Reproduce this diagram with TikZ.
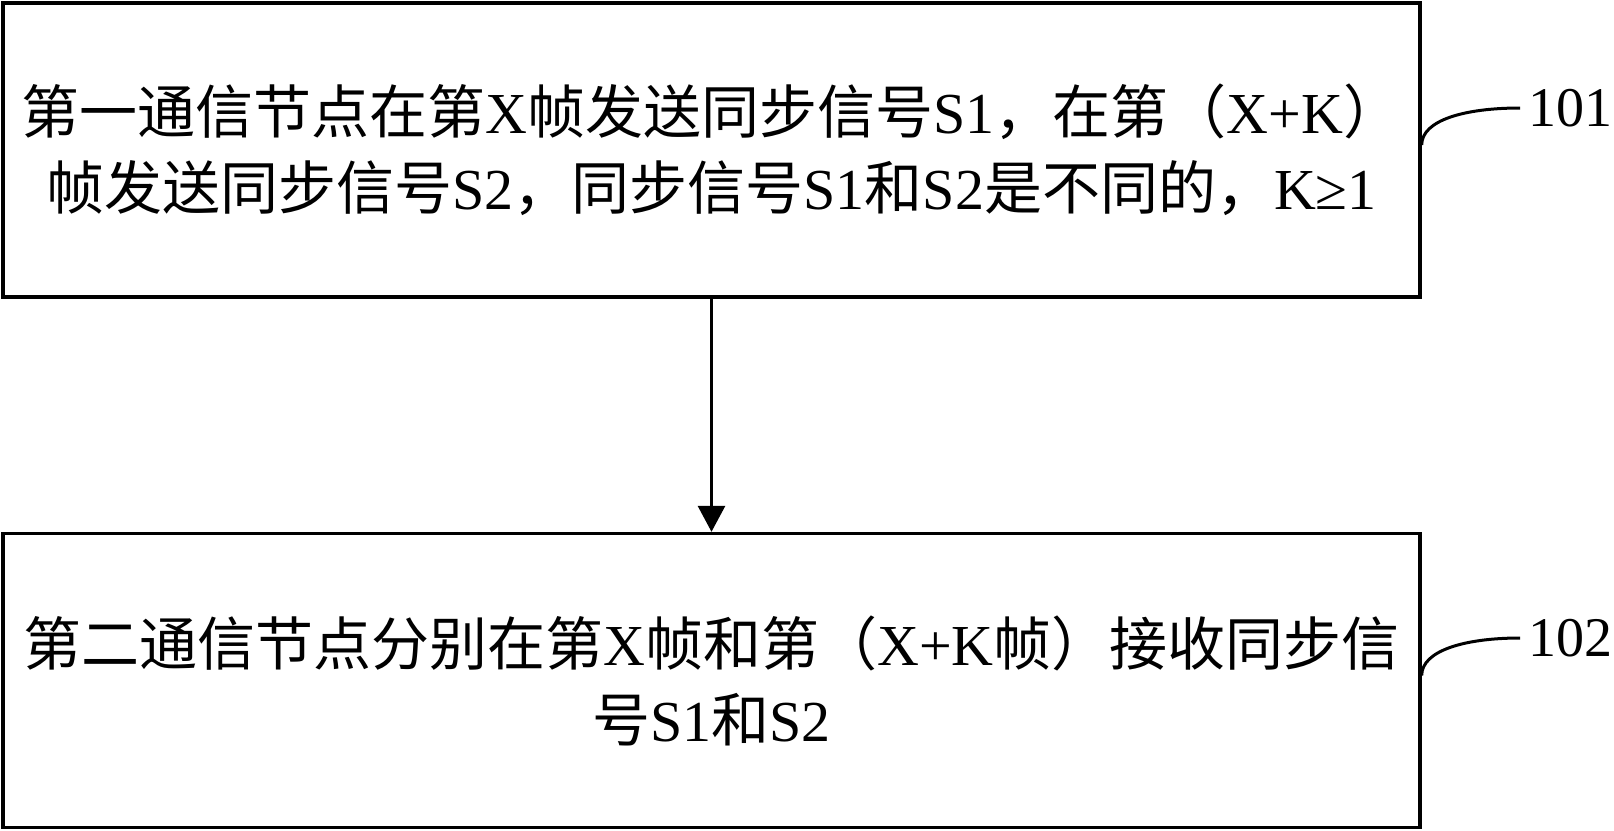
\documentclass[tikz,border=0pt]{standalone}
\usepackage{fontspec}
\setmainfont{Liberation Serif}
\newfontfamily\cjk{Noto Sans CJK SC}
\newcommand{\zh}[1]{{\cjk #1}}
\usetikzlibrary{arrows.meta,positioning}
\tikzstyle{stepbox} = [rectangle, minimum width=708.5pt, minimum height=147pt, text centered, align=center, draw=black, line width=1.7pt, inner sep=0pt, font=\fontsize{29pt}{38pt}\selectfont]
\tikzstyle{arrow} = [line width=1.5pt, -{Triangle[width=13.5pt,length=13pt]}]
\tikzstyle{leader} = [line width=1.5pt]
\tikzstyle{tag} = [anchor=west, inner xsep=4pt, inner ysep=0pt, font=\fontsize{28pt}{34pt}\selectfont]

\begin{document}
\begin{tikzpicture}[x=0.5pt, y=-0.5pt]
\useasboundingbox (0,0) rectangle (1614,831);
% Step boxes
\node (send) [stepbox] at (711.5,150) {\zh{第一通信节点在第}X\zh{帧发送同步信号}S1\zh{，在第（}X+K\zh{）}\\\zh{帧发送同步信号}S2\zh{，同步信号}S1\zh{和}S2\zh{是不同的，}K≥1};
\node (recv) [stepbox] at (711.5,680.5) {\zh{第二通信节点分别在第}X\zh{帧和第（}X+K\zh{帧）接收同步信}\\\zh{号}S1\zh{和}S2};

% Arrow
\draw[arrow] (send) -- (recv);

% Step numbers
\node (num1) [tag] at (1520,108) {101};
\node (num2) [tag] at (1520,638) {102};
\coordinate (foot1) at ([yshift=2.5pt]send.east);
\coordinate (foot2) at ([yshift=2.5pt]recv.east);
\draw[leader] (foot1) .. controls +(0,-25) and +(-55,0) .. (num1.west);
\draw[leader] (foot2) .. controls +(0,-25) and +(-55,0) .. (num2.west);
\end{tikzpicture}
\end{document}
